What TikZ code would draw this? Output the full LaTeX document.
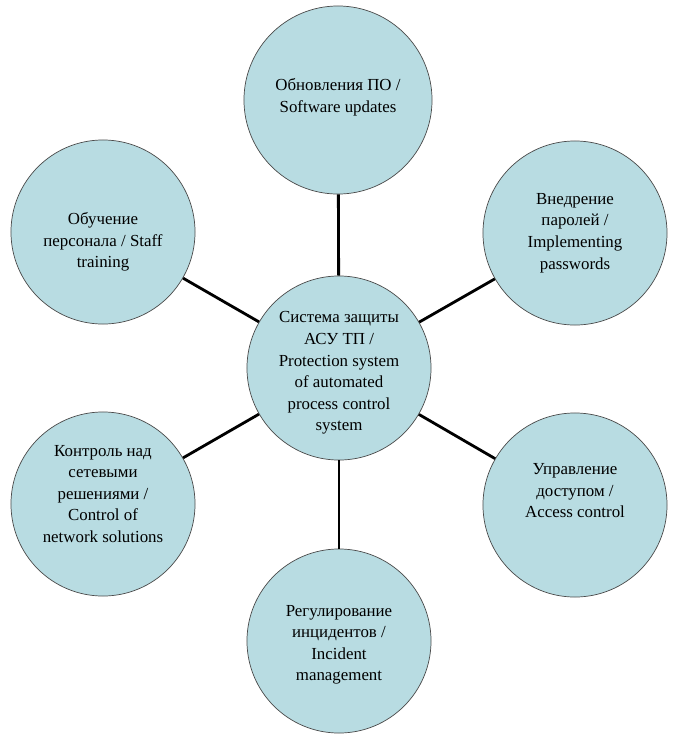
\documentclass[tikz,border=0pt]{standalone}
\usepackage{fontspec}
\setmainfont{Liberation Serif}
\newfontfamily\bubblefont{Liberation Serif}
\usetikzlibrary{calc}
\definecolor{bubblefill}{HTML}{B8DCE2}
\definecolor{rimgray}{HTML}{4A4A4A}
\tikzset{
  bubble/.style={circle, draw=rimgray, line width=0.5pt, fill=bubblefill, minimum size=4.6cm, inner sep=0pt},
  bubbletext/.style={align=center, inner sep=0pt, font=\bubblefont\fontsize{12}{15.3}\selectfont},
  link/.style={line width=2pt, black},
}

\begin{document}
\begin{tikzpicture}[x=0.025cm,y=-0.025cm]
  \useasboundingbox (0,0) rectangle (673,739);
  % circles (pixel grid of the original)
  \node[bubble] (hub) at (339,368) {};
  \node[bubble, minimum size=4.7cm] (updates) at (338,100) {};
  \node[bubble] (staff) at (103,232) {};
  \node[bubble] (passwords) at (575,233) {};
  \node[bubble] (network) at (103,504) {};
  \node[bubble] (access) at (575,505) {};
  \node[bubble] (incident) at (339,641) {};
  % spokes
  \foreach \n in {updates,staff,passwords,network,access,incident}
    \draw[link] (hub) -- (\n);
  % texts
  \node[bubbletext] (hubtxt) at ($(hub)+(0,5)$) {Система защиты\\АСУ ТП /\\Protection system\\of automated\\process control\\system};
  \node[bubbletext] (updatestxt) at ($(updates)+(0,-3)$) {Обновления ПО /\\Software updates};
  \node[bubbletext] (stafftxt) at ($(staff)+(0,10)$) {Обучение\\персонала / Staff\\training};
  \node[bubbletext] (passwordstxt) at (passwords) {Внедрение\\паролей /\\Implementing\\passwords};
  \node[bubbletext] (networktxt) at ($(network)+(0,-10)$) {Контроль над\\сетевыми\\решениями /\\Control of\\network solutions};
  \node[bubbletext] (accesstxt) at ($(access)+(0,-14)$) {Управление\\доступом /\\Access control};
  \node[bubbletext] (incidenttxt) at ($(incident)+(0,4)$) {Регулирование\\инцидентов /\\Incident\\management};
\end{tikzpicture}
\end{document}
